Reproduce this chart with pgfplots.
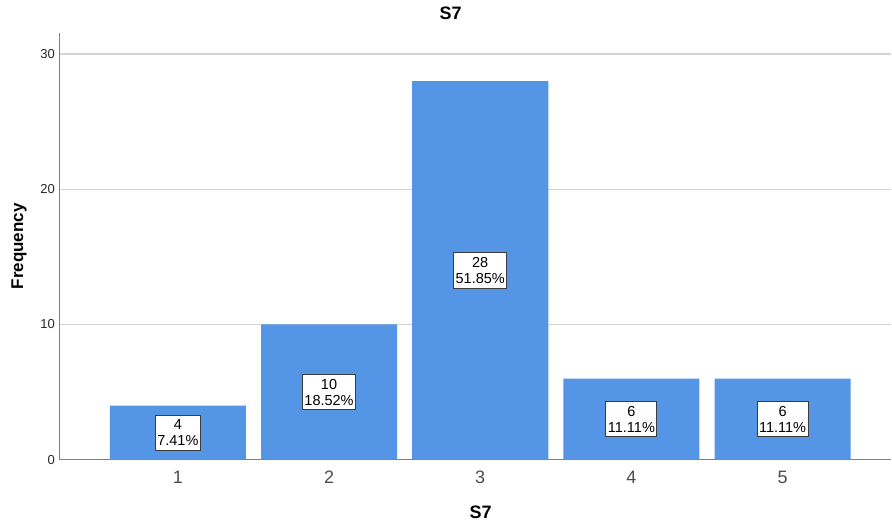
\documentclass[border=0pt]{standalone}
\usepackage{fontspec}
\setmainfont{Liberation Sans}
\usepackage{pgfplots}
\pgfplotsset{compat=1.18}
\definecolor{barblue}{RGB}{84,149,229}
\definecolor{gridgray}{RGB}{212,212,212}
\definecolor{axgray}{RGB}{128,128,128}
\definecolor{boxedge}{RGB}{60,60,60}
\begin{document}
\begin{tikzpicture}
\begin{axis}[
  scale only axis,
  width=832pt, height=427pt,
  xmin=0.22, xmax=5.72,
  ymin=0, ymax=31.56,
  axis x line=bottom, axis y line=left,
  axis line style={-, draw=axgray, line width=1pt},
  xtick={1,2,3,4,5},
  ytick={0,10,20,30},
  major tick length=0pt,
  ymajorgrids,
  grid style={draw=gridgray, line width=1.2pt},
  /pgf/number format/assume math mode=true,
  yticklabel style={font=\fontsize{13}{15}\selectfont, inner sep=0pt, xshift=-5pt, text=black!85},
  xticklabel style={font=\fontsize{18}{20}\selectfont, inner sep=0pt, yshift=-11pt, text=black!70},
  title={S7},
  title style={at={(axis description cs:0.47,1.0328)}, anchor=center, font=\bfseries\fontsize{18}{20}\selectfont},
  xlabel={S7},
  xlabel style={at={(axis description cs:0.506,-0.1241)}, anchor=center, font=\bfseries\fontsize{18}{20}\selectfont},
  ylabel={Frequency},
  ylabel style={at={(axis description cs:-0.0493,0.5)}, anchor=center, font=\bfseries\fontsize{17}{19}\selectfont},
  clip=false,
]
\addplot[ybar, bar width=0.9, bar shift=0pt, fill=barblue, draw=none]
  coordinates {(1,4) (2,10) (3,28) (4,6) (5,6)};
\addplot[draw=none, mark=none,
  point meta=explicit symbolic,
  nodes near coords,
  nodes near coords style={anchor=center, draw=boxedge, fill=white, line width=0.9pt,
    align=center, inner xsep=2pt, inner ysep=4.5pt,
    font=\fontsize{14.5}{16}\selectfont}]
  coordinates {(1,2) [{4\\7.41\%}] (2,5) [{10\\18.52\%}] (3,14) [{28\\51.85\%}] (4,3) [{6\\11.11\%}] (5,3) [{6\\11.11\%}]};
\end{axis}
\path ([xshift=-60pt,yshift=-64pt]current axis.south west) rectangle ([yshift=33pt]current axis.north east);
\end{tikzpicture}
\end{document}
